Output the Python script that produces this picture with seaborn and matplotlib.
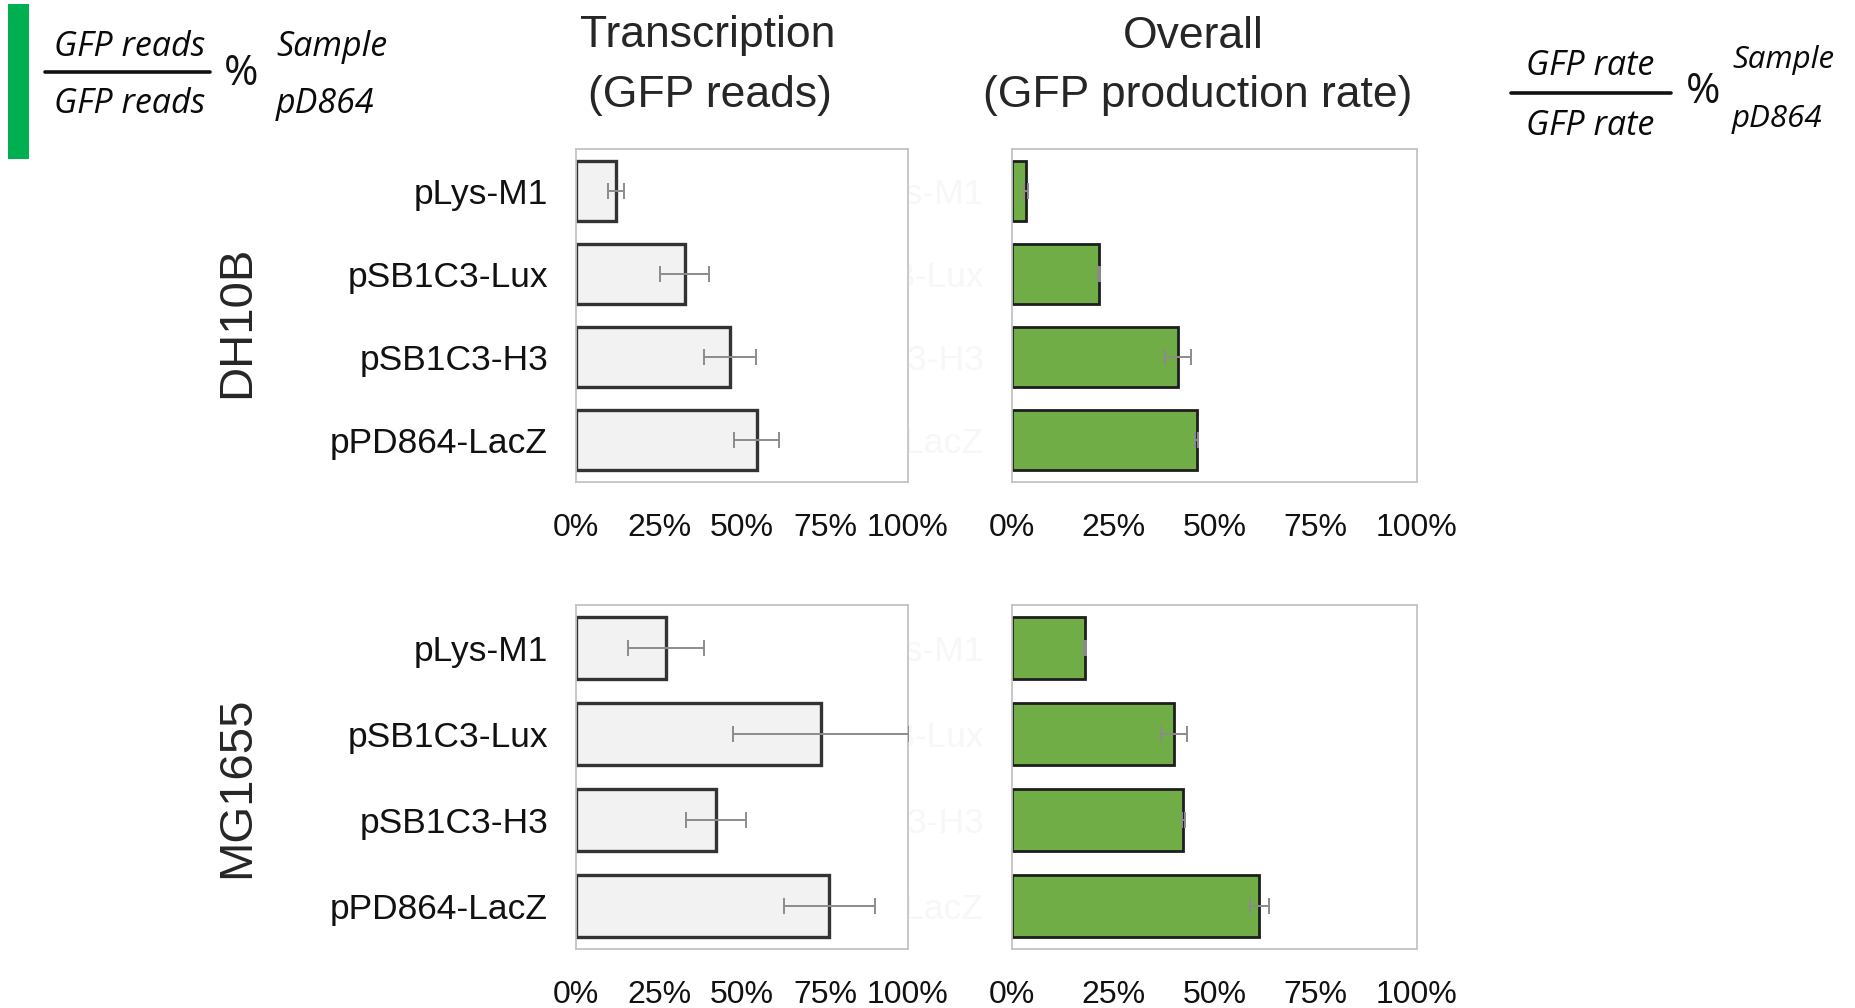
import matplotlib
matplotlib.use("Agg")
import matplotlib.pyplot as plt
from matplotlib import font_manager
from matplotlib.lines import Line2D
from matplotlib.patches import Rectangle
import seaborn as sns

# ---------------- data ----------------
constructs = ["pLys-M1", "pSB1C3-Lux", "pSB1C3-H3", "pPD864-LacZ"]
strains = ["DH10B", "MG1655"]
x_ticks = [0, 25, 50, 75, 100]
x_tick_labels = ["0%", "25%", "50%", "75%", "100%"]

transcription_dh10b = [12.0, 32.8, 46.4, 54.4]
transcription_dh10b_err = [2.5, 7.4, 7.9, 6.8]
overall_dh10b = [3.4, 21.5, 41.0, 45.6]
overall_dh10b_err = [0.5, 0.3, 3.2, 0.3]

transcription_mg1655 = [27.1, 73.8, 42.2, 76.3]
transcription_mg1655_err = [11.5, 26.4, 9.0, 13.7]
overall_mg1655 = [18.0, 39.9, 42.3, 61.1]
overall_mg1655_err = [0.3, 3.2, 0.4, 2.3]

# ---------------- style ----------------
sns.set_style("white")
plt.rcParams["font.family"] = ["Liberation Sans", "DejaVu Sans"]

def have_font(name):
    try:
        font_manager.findfont(name, fallback_to_default=False)
        return True
    except Exception:
        return False

narrow = ["Liberation Sans Narrow", "Liberation Sans"] if have_font("Liberation Sans Narrow") else ["Liberation Sans"]

W, H = 1856, 1008
fig = plt.figure(figsize=(W / 100, H / 100), dpi=100)

def px_rect(x0, y0, x1, y1):
    return [x0 / W, 1 - y1 / H, (x1 - x0) / W, (y1 - y0) / H]

axes_px = {
    ("t", 0): (576, 149, 908, 482),
    ("o", 0): (1012, 149, 1417, 482),
    ("t", 1): (576, 605, 908, 949),
    ("o", 1): (1012, 605, 1417, 949),
}

panels = [
    ("t", 0, transcription_dh10b, transcription_dh10b_err),
    ("o", 0, overall_dh10b, overall_dh10b_err),
    ("t", 1, transcription_mg1655, transcription_mg1655_err),
    ("o", 1, overall_mg1655, overall_mg1655_err),
]

for kind, row, vals, errs in panels:
    ax = fig.add_axes(px_rect(*axes_px[(kind, row)]))
    if kind == "t":
        fill, edge, lw = "#f2f2f2", "#333333", 2.4
        ax.set_zorder(2)
        ax.set_facecolor("white")
    else:
        fill, edge, lw = "#70ad47", "#1e1e1e", 2.0
        ax.set_zorder(1)
    sns.barplot(x=vals, y=constructs, orient="h", color=fill, saturation=1,
                edgecolor=edge, linewidth=lw, width=0.72, errorbar=None, ax=ax)
    ax.errorbar(vals, list(range(len(constructs))), xerr=errs, fmt="none",
                ecolor="#8c8c8c", elinewidth=1.4, capsize=6, capthick=1.4, zorder=5)
    ax.set_xlim(0, 100)
    ax.set_ylim(3.5, -0.5)
    ax.set_xticks(x_ticks)
    ax.set_xticklabels(x_tick_labels, fontsize=23, family=narrow, color="#111111")
    ax.tick_params(axis="both", length=0)
    ax.tick_params(axis="x", pad=22)
    ax.tick_params(axis="y", pad=20)
    ax.set_yticks(range(len(constructs)))
    if kind == "t":
        ax.set_yticklabels(constructs, fontsize=25.5, color="#111111")
    else:
        ax.set_yticklabels(constructs, fontsize=25.5, color="#f7f7f7")
    ax.set_xlabel("")
    ax.set_ylabel("")
    for s in ax.spines.values():
        s.set_visible(True)
        s.set_color("#c4c4c4")
        s.set_linewidth(1.3)

def ftext(x, y, s, **kw):
    fig.text(x / W, 1 - y / H, s, ha="center", va="center", **kw)

# column titles
ftext(708, 36, "Transcription", fontsize=32)
ftext(710, 95, "(GFP reads)", fontsize=32)
ftext(1193, 36, "Overall", fontsize=32)
ftext(1198, 95, "(GFP production rate)", fontsize=32)

# row labels
ftext(237, 322, strains[0], fontsize=34, rotation=90)
ftext(237, 787, strains[1], fontsize=34, rotation=90)

# formula annotations
it = dict(fontstyle="italic", family=["Open Sans", "DejaVu Sans"], color="#0a0a0a")
fig.add_artist(Rectangle((8 / W, 1 - 159 / H), 21 / W, 155 / H,
                         transform=fig.transFigure, color="#00b050", lw=0))
ftext(130, 47, "GFP reads", fontsize=24.5, **it)
ftext(130, 104, "GFP reads", fontsize=24.5, **it)
fig.add_artist(Line2D([45 / W, 210 / W], [1 - 72 / H, 1 - 72 / H],
                      transform=fig.transFigure, color="#111111", lw=2.6))
ftext(241, 74, "%", fontsize=30, family=["Open Sans", "DejaVu Sans"], color="#111111")
fig.text(276 / W, 1 - 47 / H, "Sample", ha="left", va="center", fontsize=24.5, **it)
fig.text(276 / W, 1 - 104 / H, "pD864", ha="left", va="center", fontsize=24.5, **it)

ftext(1590, 66, "GFP rate", fontsize=24.5, **it)
ftext(1590, 126, "GFP rate", fontsize=24.5, **it)
fig.add_artist(Line2D([1511 / W, 1671 / W], [1 - 93 / H, 1 - 93 / H],
                      transform=fig.transFigure, color="#111111", lw=2.6))
ftext(1703, 92, "%", fontsize=30, family=["Open Sans", "DejaVu Sans"], color="#111111")
fig.text(1732 / W, 1 - 60 / H, "Sample", ha="left", va="center", fontsize=22.5, **it)
fig.text(1732 / W, 1 - 119 / H, "pD864", ha="left", va="center", fontsize=22.5, **it)

fig.savefig("out.png", dpi=100, facecolor="white")
